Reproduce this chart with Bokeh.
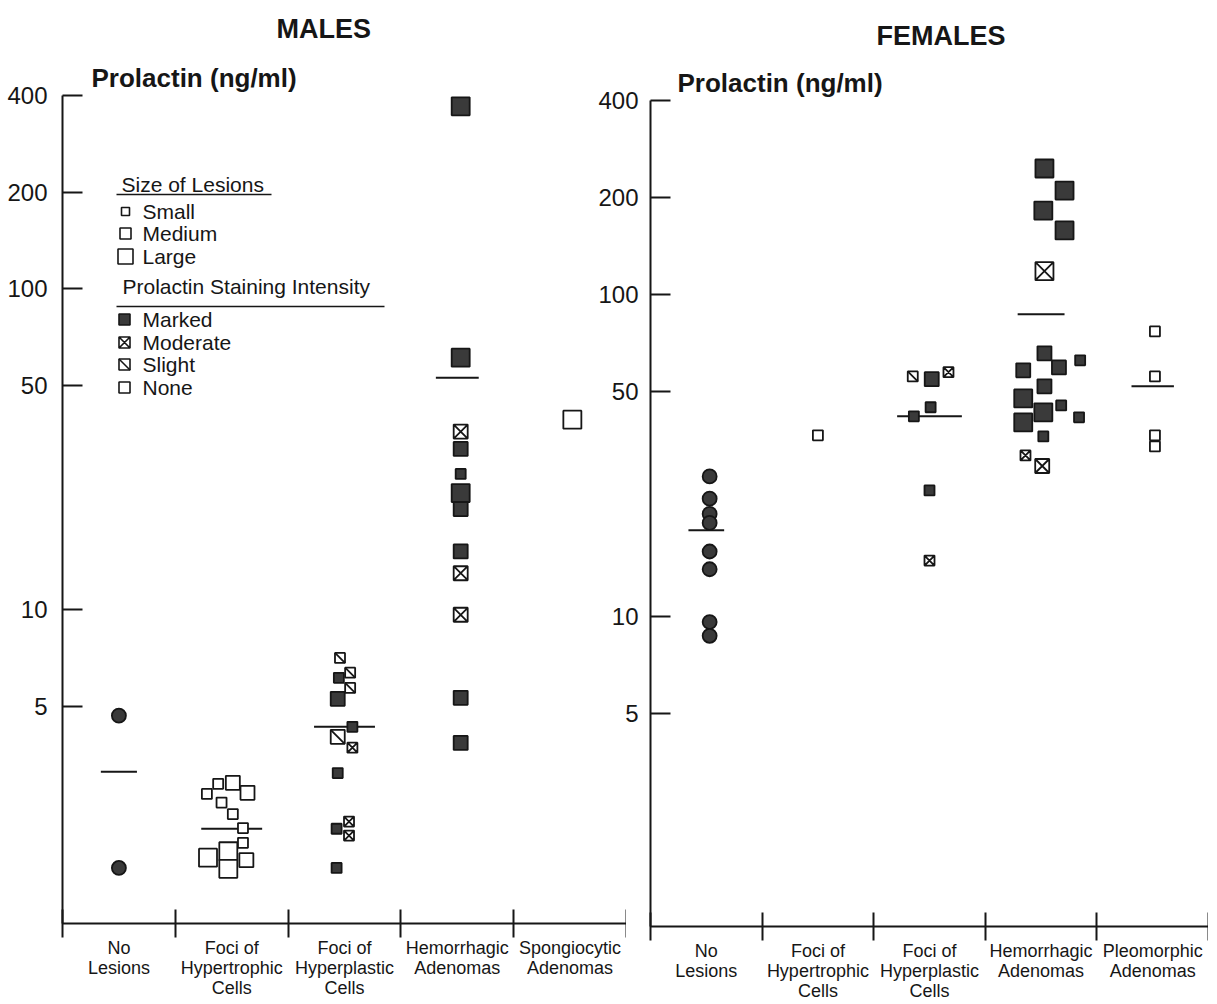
import math
from bokeh.plotting import figure
from bokeh.models import (Range1d, LinearScale, FixedTicker, NumeralTickFormatter,
                          Title, ColumnDataSource)
from bokeh.layouts import row
from bokeh.embed import file_html
from bokeh.resources import INLINE
from bokeh.core.properties import value

FONT = "Liberation Sans"
INK = "#161616"
MARKED_FILL = "#3a3a3a"

# ---------------- data ----------------
y_ticks = [5, 10, 50, 100, 200, 400]

male_categories = ["No\nLesions", "Foci of\nHypertrophic\nCells", "Foci of\nHyperplastic\nCells",
                   "Hemorrhagic\nAdenomas", "Spongiocytic\nAdenomas"]
female_categories = ["No\nLesions", "Foci of\nHypertrophic\nCells", "Foci of\nHyperplastic\nCells",
                     "Hemorrhagic\nAdenomas", "Pleomorphic\nAdenomas"]

# one entry per animal: lesion group (index into categories), prolactin (ng/ml),
# size of lesion (S/M/L, "-" = no lesion), prolactin staining intensity
male_group = [0, 0,
              1, 1, 1, 1, 1, 1, 1, 1, 1, 1, 1, 1,
              2, 2, 2, 2, 2, 2, 2, 2, 2, 2, 2, 2, 2,
              3, 3, 3, 3, 3, 3, 3, 3, 3, 3, 3, 3,
              4]
male_prolactin = [4.68, 1.57,
                  2.67, 2.87, 2.89, 2.69, 2.51, 2.31, 2.09, 1.88, 1.69, 1.77, 1.66, 1.56,
                  7.08, 6.37, 6.14, 5.71, 5.28, 4.32, 4.02, 3.72, 3.10, 2.19, 2.08, 1.98, 1.57,
                  370, 61.0, 35.9, 31.7, 26.5, 23.1, 20.6, 15.2, 13.0, 9.65, 5.32, 3.85,
                  39.1]
male_size = ["-", "-",
             "S", "S", "M", "M", "S", "S", "S", "S", "L", "L", "M", "L",
             "S", "S", "S", "S", "M", "S", "M", "S", "S", "S", "S", "S", "S",
             "L", "L", "M", "M", "S", "L", "M", "M", "M", "M", "M", "M",
             "L"]
male_stain = ["-", "-",
              "none", "none", "none", "none", "none", "none", "none", "none", "none", "none", "none", "none",
              "slight", "slight", "marked", "slight", "marked", "marked", "slight", "moderate", "marked",
              "moderate", "marked", "moderate", "marked",
              "marked", "marked", "moderate", "marked", "marked", "marked", "marked", "marked",
              "moderate", "moderate", "marked", "marked",
              "none"]
male_jitter = [0.0, 0.0,
               -0.22, -0.12, 0.01, 0.14, -0.09, 0.01, 0.10, 0.10, -0.21, -0.03, 0.13, -0.03,
               -0.04, 0.05, -0.05, 0.05, -0.06, 0.07, -0.06, 0.07, -0.06, 0.04, -0.07, 0.04, -0.07,
               0.03, 0.03, 0.03, 0.03, 0.03, 0.03, 0.03, 0.03, 0.03, 0.03, 0.03, 0.03,
               0.02]
male_mean_group = [0, 1, 2, 3]
male_mean = [3.13, 2.08, 4.32, 52.8]

female_group = [0, 0, 0, 0, 0, 0, 0, 0,
                1,
                2, 2, 2, 2, 2, 2, 2,
                3, 3, 3, 3, 3, 3, 3, 3, 3, 3, 3, 3, 3, 3, 3, 3, 3, 3,
                4, 4, 4, 4]
female_prolactin = [27.2, 23.2, 20.8, 19.5, 15.9, 14.0, 9.6, 8.7,
                    36.5,
                    55.6, 54.5, 57.3, 44.6, 41.8, 24.6, 14.9,
                    246, 210, 182, 158, 118, 65.6, 62.4, 59.3, 58.1, 51.8, 47.5, 45.2, 43.0,
                    41.5, 40.0, 36.2, 31.6, 29.3,
                    76.7, 55.6, 36.5, 33.7]
female_size = ["-", "-", "-", "-", "-", "-", "-", "-",
               "S",
               "S", "M", "S", "S", "S", "S", "S",
               "L", "L", "L", "L", "L", "M", "S", "M", "M", "M", "L", "S", "L", "S", "L", "S", "S", "M",
               "S", "S", "S", "S"]
female_stain = ["-", "-", "-", "-", "-", "-", "-", "-",
                "none",
                "slight", "marked", "moderate", "marked", "marked", "marked", "moderate",
                "marked", "marked", "marked", "marked", "moderate", "marked", "marked", "marked",
                "marked", "marked", "marked", "marked", "marked", "marked", "marked", "marked",
                "moderate", "moderate",
                "none", "none", "none", "none"]
female_jitter = [0.03, 0.03, 0.03, 0.03, 0.03, 0.03, 0.03, 0.03,
                 0.0,
                 -0.15, 0.02, 0.17, 0.01, -0.14, 0.0, 0.0,
                 0.03, 0.21, 0.02, 0.21, 0.03, 0.03, 0.35, 0.16, -0.16, 0.03, -0.16, 0.18, 0.02,
                 0.34, -0.16, 0.02, -0.14, 0.01,
                 0.02, 0.02, 0.02, 0.02]
female_mean_group = [0, 2, 3, 4]
female_mean = [18.5, 41.8, 86.7, 51.8]

legend_size_labels = ["Small", "Medium", "Large"]
legend_size_keys = ["S", "M", "L"]
legend_stain_labels = ["Marked", "Moderate", "Slight", "None"]
legend_stain_keys = ["marked", "moderate", "slight", "none"]

# ---------------- styling ----------------
SIZE_PX = {"S": 10, "M": 14, "L": 18}
LEG_SIZE_PX = {"S": 8, "M": 11, "L": 15}
CIRCLE_PX = 14
male_mean_halfwidth = [0.16, 0.27, 0.27, 0.19]
female_mean_halfwidth = [0.16, 0.29, 0.21, 0.19]


def marker_columns(group, prl, size, stain, jitter):
    rows = []
    for g, v, s, st, j in zip(group, prl, size, stain, jitter):
        x = g + 0.5 + j
        if s == "-":
            rows.append((x, v, "circle", CIRCLE_PX, MARKED_FILL, st))
        else:
            px = SIZE_PX[s]
            if st == "marked":
                rows.append((x, v, "square", px, MARKED_FILL, st))
            elif st == "moderate":
                rows.append((x, v, "square_x", px, "white", st))
            else:
                rows.append((x, v, "square", px, "white", st))
    rows.sort(key=lambda r: -r[3])
    return rows


def draw_points(p, group, prl, size, stain, jitter):
    rows = marker_columns(group, prl, size, stain, jitter)
    src = ColumnDataSource(dict(x=[r[0] for r in rows], y=[r[1] for r in rows],
                                marker=[r[2] for r in rows], size=[r[3] for r in rows],
                                fill=[r[4] for r in rows]))
    p.scatter(x="x", y="y", marker="marker", size="size", fill_color="fill",
              line_color=INK, line_width=1.8, source=src)
    sl = [r for r in rows if r[5] == "slight"]
    if sl:
        p.scatter(x=[r[0] for r in sl], y=[r[1] for r in sl], marker="dash",
                  size=[r[3] * 1.414 for r in sl], angle=-math.pi / 4,
                  line_color=INK, line_width=1.8)


def make_panel(sex, cats, group, prl, size, stain, jitter, mgroup, mval, mhalf, *,
               frame_w, frame_h, y_start, top, bottom, left, right, label_standoff,
               title_off, sex_off, sex_standoff, margin, legend=False):
    n = len(cats)
    p = figure(frame_width=frame_w, frame_height=frame_h,
               x_range=Range1d(0, n), y_range=Range1d(y_start, 400), y_axis_type="log",
               output_backend="svg", toolbar_location=None,
               min_border_top=top, min_border_bottom=bottom,
               min_border_left=left, min_border_right=right,
               background_fill_color=None, border_fill_color=None,
               outline_line_color=None, margin=margin)
    p.grid.visible = False

    # titles: main title is the outer one, the axis caption sits next to the frame
    p.title.text = sex
    p.title.align = "left"
    p.title.offset = sex_off
    p.title.text_font = FONT
    p.title.text_font_size = "27px"
    p.title.text_font_style = "bold"
    p.title.text_color = INK
    p.title.standoff = sex_standoff
    p.add_layout(Title(text="Prolactin (ng/ml)", align="left", offset=title_off, text_font=FONT,
                       text_font_size="26px", text_font_style="bold",
                       text_color=INK, standoff=6), "above")

    # x axis: labels at category centres, ticks at the boundaries
    xa = p.xaxis[0]
    xa.ticker = FixedTicker(ticks=[i + 0.5 for i in range(n)], minor_ticks=list(range(n + 1)))
    xa.major_label_overrides = {i + 0.5: c for i, c in enumerate(cats)}
    xa.major_tick_in = 0
    xa.major_tick_out = 0
    xa.minor_tick_in = 14
    xa.minor_tick_out = 14
    xa.minor_tick_line_width = 2
    xa.minor_tick_line_color = INK
    xa.axis_line_width = 2
    xa.axis_line_color = INK
    xa.major_label_text_font = FONT
    xa.major_label_text_font_size = "18px"
    xa.major_label_text_color = INK
    xa.major_label_text_line_height = 1.0
    xa.major_label_standoff = 0

    # y axis (log)
    ya = p.yaxis[0]
    ya.ticker = FixedTicker(ticks=y_ticks, minor_ticks=[])
    ya.formatter = NumeralTickFormatter(format="0")
    ya.major_tick_in = 20
    ya.major_tick_out = 0
    ya.minor_tick_in = 0
    ya.minor_tick_out = 0
    ya.major_tick_line_width = 2
    ya.major_tick_line_color = INK
    ya.axis_line_width = 2
    ya.axis_line_color = INK
    ya.major_label_text_font = FONT
    ya.major_label_text_font_size = "24px"
    ya.major_label_text_color = INK
    ya.major_label_standoff = label_standoff

    # group means
    p.segment(x0=[g + 0.5 - h for g, h in zip(mgroup, mhalf)],
              x1=[g + 0.5 + h for g, h in zip(mgroup, mhalf)],
              y0=mval, y1=mval, line_color=INK, line_width=2)

    draw_points(p, group, prl, size, stain, jitter)

    if legend:
        p.extra_x_ranges = {"px": Range1d(0, frame_w)}
        p.extra_y_ranges = {"px": Range1d(frame_h, 0)}
        p.extra_x_scales = {"px": LinearScale()}
        p.extra_y_scales = {"px": LinearScale()}
        kw = dict(x_range_name="px", y_range_name="px")
        sym_x, txt_x, line_x0 = 63, 80, 54
        tfont = dict(text_font=value(FONT), text_font_size="21px", text_color=INK,
                     text_baseline="middle", text_align="left")
        # headers
        p.text(x=[59, 60], y=[89, 191], text=["Size of Lesions", "Prolactin Staining Intensity"],
               **tfont, **kw)
        p.segment(x0=[line_x0, line_x0], x1=[209, 322], y0=[99, 211], y1=[99, 211],
                  line_color=INK, line_width=1.6, **kw)
        size_y = [116, 138, 161]
        p.text(x=[txt_x] * 3, y=size_y, text=legend_size_labels, **tfont, **kw)
        p.scatter(x=[sym_x] * 3, y=size_y, marker="square",
                  size=[LEG_SIZE_PX[k] for k in legend_size_keys],
                  fill_color="white", line_color=INK, line_width=1.6, **kw)
        stain_y = [224, 247, 269, 292]
        p.text(x=[txt_x] * 4, y=stain_y, text=legend_stain_labels, **tfont, **kw)
        fills = {"marked": MARKED_FILL, "moderate": "white", "slight": "white", "none": "white"}
        marks = {"marked": "square", "moderate": "square_x", "slight": "square", "none": "square"}
        p.scatter(x=[sym_x - 1] * 4, y=stain_y, marker=[marks[k] for k in legend_stain_keys],
                  size=11, fill_color=[fills[k] for k in legend_stain_keys],
                  line_color=INK, line_width=1.6, **kw)
        sy = [y for y, k in zip(stain_y, legend_stain_keys) if k == "slight"]
        p.scatter(x=[sym_x - 1] * len(sy), y=sy, marker="dash", size=11 * 1.414,
                  angle=-math.pi / 4, line_color=INK, line_width=1.6, **kw)
    return p


male = make_panel("MALES", male_categories, male_group, male_prolactin, male_size, male_stain,
                  male_jitter, male_mean_group, male_mean, male_mean_halfwidth,
                  frame_w=564, frame_h=828, y_start=1.054, top=91, bottom=60, left=62, right=0,
                  label_standoff=15, title_off=29, sex_off=214, sex_standoff=28,
                  margin=(-3, 0, 0, 0), legend=True)
female = make_panel("FEMALES", female_categories, female_group, female_prolactin, female_size,
                    female_stain, female_jitter, female_mean_group, female_mean,
                    female_mean_halfwidth,
                    frame_w=558, frame_h=826, y_start=1.088, top=96, bottom=60, left=52, right=0,
                    label_standoff=12, title_off=27, sex_off=226, sex_standoff=23,
                    margin=(2, 0, 0, -31))

layout = row(male, female, spacing=0)
open("out.html", "w").write(file_html(layout, INLINE))
